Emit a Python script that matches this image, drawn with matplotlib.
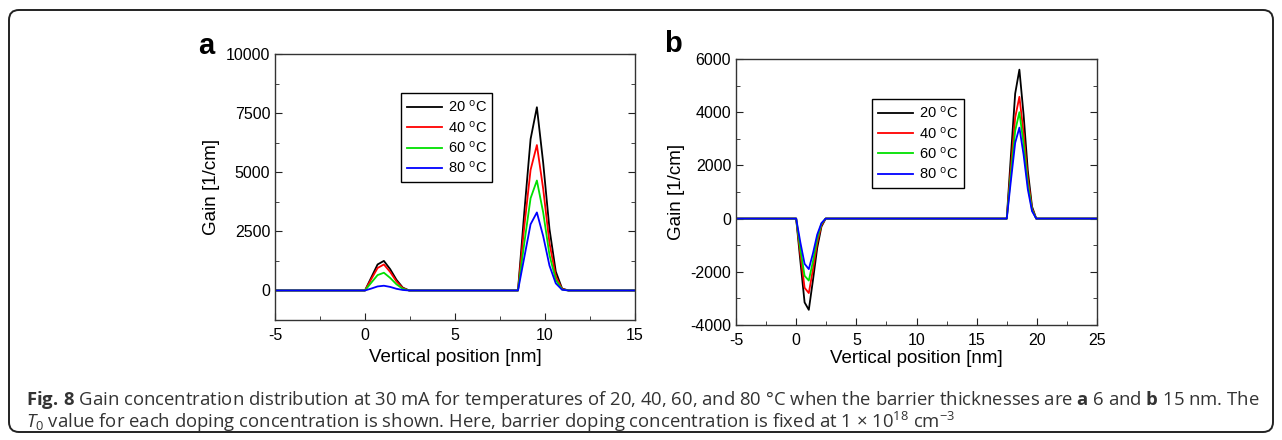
import matplotlib
matplotlib.use("Agg")
import matplotlib.pyplot as plt
from matplotlib.patches import FancyBboxPatch
from matplotlib.ticker import MultipleLocator
from matplotlib import font_manager as fm

# Panel a: barrier 6 nm
x_a = [-5, 0, 0.35, 0.7, 1.05, 1.4, 1.75, 2.1, 2.45,
       8.5, 8.85, 9.2, 9.55, 9.9, 10.25, 10.6, 10.95, 11.3, 15]
a_20 = [0, 0, 550, 1100, 1250, 900, 450, 120, 0,
        0, 3300, 6400, 7750, 5400, 2600, 800, 80, 0, 0]
a_40 = [0, 0, 480, 950, 1100, 780, 380, 100, 0,
        0, 2700, 5100, 6150, 4300, 2000, 600, 60, 0, 0]
a_60 = [0, 0, 330, 650, 750, 530, 260, 70, 0,
        0, 2000, 3900, 4650, 3300, 1500, 450, 40, 0, 0]
a_80 = [0, 0, 80, 170, 200, 150, 70, 20, 0,
        0, 1400, 2800, 3300, 2300, 1050, 300, 30, 0, 0]

# Panel b: barrier 15 nm
x_b = [-5, 0, 0.35, 0.7, 1.05, 1.4, 1.75, 2.1, 2.45,
       17.5, 17.85, 18.2, 18.55, 18.9, 19.25, 19.6, 19.95, 25]
b_20 = [0, 0, -1600, -3150, -3430, -2300, -1100, -300, 0,
        0, 2400, 4700, 5600, 3900, 1800, 450, 0, 0]
b_40 = [0, 0, -1350, -2600, -2800, -1900, -900, -250, 0,
        0, 1950, 3800, 4580, 3200, 1500, 380, 0, 0]
b_60 = [0, 0, -1150, -2150, -2330, -1600, -750, -200, 0,
        0, 1700, 3300, 4000, 2800, 1300, 330, 0, 0]
b_80 = [0, 0, -900, -1700, -1900, -1300, -600, -170, 0,
        0, 1450, 2850, 3420, 2400, 1100, 280, 0, 0]

labels = [r"20 $^{\rm o}$C", r"40 $^{\rm o}$C", r"60 $^{\rm o}$C", r"80 $^{\rm o}$C"]
colors = ["black", "#ff0000", "#00e000", "#0000ff"]


def pick_font(names):
    for n in names:
        try:
            fm.findfont(n, fallback_to_default=False)
            return n
        except Exception:
            pass
    return "DejaVu Sans"


plot_font = pick_font(["Liberation Sans", "Arial"])
cap_font = pick_font(["Liberation Sans Narrow", "Open Sans", "Noto Sans"])

plt.rcParams["font.family"] = plot_font
plt.rcParams["axes.unicode_minus"] = False
plt.rcParams["mathtext.fontset"] = "custom"
plt.rcParams["mathtext.rm"] = cap_font
plt.rcParams["mathtext.it"] = cap_font + ":italic"
plt.rcParams["mathtext.bf"] = cap_font + ":bold"


def style_axes(ax, xlim, ylim, xmaj, ymaj, xpad):
    ax.set_xlim(*xlim)
    ax.set_ylim(*ylim)
    ax.xaxis.set_major_locator(MultipleLocator(xmaj))
    ax.xaxis.set_minor_locator(MultipleLocator(xmaj / 2))
    ax.yaxis.set_major_locator(MultipleLocator(ymaj))
    ax.yaxis.set_minor_locator(MultipleLocator(ymaj / 2))
    ax.tick_params(which="both", direction="in", right=True, top=False,
                   labelsize=11.5, colors="#222222", labelcolor="black")
    ax.tick_params(which="major", length=5)
    ax.tick_params(which="minor", length=3)
    ax.tick_params(axis="x", pad=6)
    for s in ax.spines.values():
        s.set_color("#333333")
        s.set_linewidth(1.0)
    ax.set_xlabel("Vertical position [nm]", fontsize=13.5, labelpad=xpad)
    ax.set_ylabel("Gain [1/cm]", fontsize=13.5, labelpad=4)


fig = plt.figure(figsize=(12.82, 4.40), dpi=100)

# rounded frame around figure + caption
frame = FancyBboxPatch((0.09, 0.08), 12.64, 4.22,
                       boxstyle="round,pad=0,rounding_size=0.1",
                       transform=fig.dpi_scale_trans, fill=False,
                       edgecolor="#222222", linewidth=1.4)
fig.patches.append(frame)

ax1 = fig.add_axes([0.2145, 0.2727, 0.2808, 0.6045])
for y, c, l in zip([a_20, a_40, a_60, a_80], colors, labels):
    ax1.plot(x_a, y, color=c, lw=1.3, label=l)
style_axes(ax1, (-5, 15), (-1250, 10000), 5, 2500, 4)
ax1.legend(loc="upper left", bbox_to_anchor=(0.35, 0.853), borderaxespad=0,
           fancybox=False, edgecolor="black", framealpha=1, fontsize=10.5,
           handlelength=2.4, handletextpad=0.4, labelspacing=0.3)

ax2 = fig.add_axes([0.5741, 0.2614, 0.2816, 0.6045])
for y, c, l in zip([b_20, b_40, b_60, b_80], colors, labels):
    ax2.plot(x_b, y, color=c, lw=1.3, label=l)
style_axes(ax2, (-5, 25), (-4000, 6000), 5, 2000, 1)
ax2.legend(loc="upper left", bbox_to_anchor=(0.377, 0.85), borderaxespad=0,
           fancybox=False, edgecolor="black", framealpha=1, fontsize=10.5,
           handlelength=2.4, handletextpad=0.4, labelspacing=0.3)

fig.text(206 / 1282, 1 - 46 / 440, "a", fontsize=21, fontweight="bold",
         ha="center", va="center")
fig.text(673 / 1282, 1 - 44 / 440, "b", fontsize=21, fontweight="bold",
         ha="center", va="center")

cap1 = (r"$\mathbf{Fig.}\,\mathbf{8}$ Gain concentration distribution at 30 mA for temperatures of "
        r"20, 40, 60, and 80 °C when the barrier thicknesses are $\mathbf{a}$ 6 and "
        r"$\mathbf{b}$ 15 nm. The")
cap2 = (r"$T_0$ value for each doping concentration is shown. Here, barrier doping "
        r"concentration is fixed at 1 × 10$^{18}$ cm$^{-3}$")
fig.text(26 / 1282, 1 - 400 / 440, cap1, fontsize=13.3, family=cap_font,
         color="#333333", va="center", ha="left")
fig.text(26 / 1282, 1 - 422 / 440, cap2, fontsize=13.3, family=cap_font,
         color="#333333", va="center", ha="left")

fig.savefig("out.png", dpi=100)
